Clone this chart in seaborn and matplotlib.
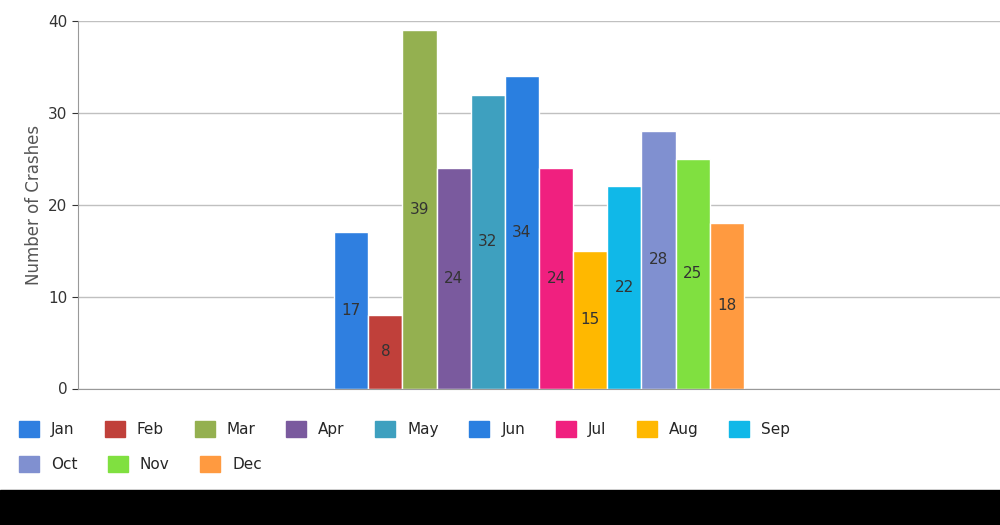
import pandas as pd
import matplotlib.pyplot as plt
import seaborn as sns
from matplotlib.patches import Rectangle

months = ['Jan', 'Feb', 'Mar', 'Apr', 'May', 'Jun', 'Jul', 'Aug', 'Sep', 'Oct', 'Nov', 'Dec']
crashes = [17, 8, 39, 24, 32, 34, 24, 15, 22, 28, 25, 18]
colors = ['#2f7fe0', '#c0403a', '#94b050', '#7a5a9e', '#3ea0bf', '#2a7fe0',
          '#f0207f', '#ffb800', '#10b8e8', '#8090d0', '#80e040', '#ff9a40']

data = pd.DataFrame({'grp': [''] * 12, 'month': months, 'crashes': crashes})

sns.set_style('white')
fig = plt.figure(figsize=(10, 5.25), dpi=100)
ax = fig.add_axes([0.078, 0.26, 0.922, 0.70])
sns.barplot(data=data, x='grp', y='crashes', hue='month', palette=colors,
            width=0.8, ax=ax, legend=False, saturation=1,
            edgecolor='white', linewidth=1)
for i, p in enumerate(ax.patches[:12]):
    h = p.get_height()
    ax.text(p.get_x() + p.get_width() / 2, h / 2, str(crashes[i]),
            ha='center', va='center', fontsize=11, color='#333333')

ax.set_xlim(-0.9, 0.9)
ax.set_ylim(0, 40)
ax.set_yticks([0, 10, 20, 30, 40])
ax.tick_params(axis='y', labelsize=11, colors='#333333', length=4, left=True)
ax.set_xticks([])
ax.set_xlabel('')
ax.set_ylabel('Number of Crashes', fontsize=12, color='#555555')
ax.grid(axis='y', color='#c0c0c0', linewidth=1)
for s in ['top', 'right']:
    ax.spines[s].set_visible(False)
ax.spines['left'].set_color('#999999')
ax.spines['bottom'].set_color('#999999')

handles = [Rectangle((0, 0), 1, 1, color=c) for c in colors]
kw = dict(loc='upper left', frameon=False, fontsize=11, handlelength=1.3,
          handleheight=1.3, columnspacing=2.0, handletextpad=0.8)
leg1 = fig.legend(handles[:9], months[:9], ncol=9, bbox_to_anchor=(0.005, 0.225), **kw)
fig.legend(handles[9:], months[9:], ncol=3, bbox_to_anchor=(0.005, 0.158), **kw)

fig.patches.append(Rectangle((0, 0), 1, 35 / 525, transform=fig.transFigure,
                             color='black', zorder=10))
fig.savefig('out.png', dpi=100)
